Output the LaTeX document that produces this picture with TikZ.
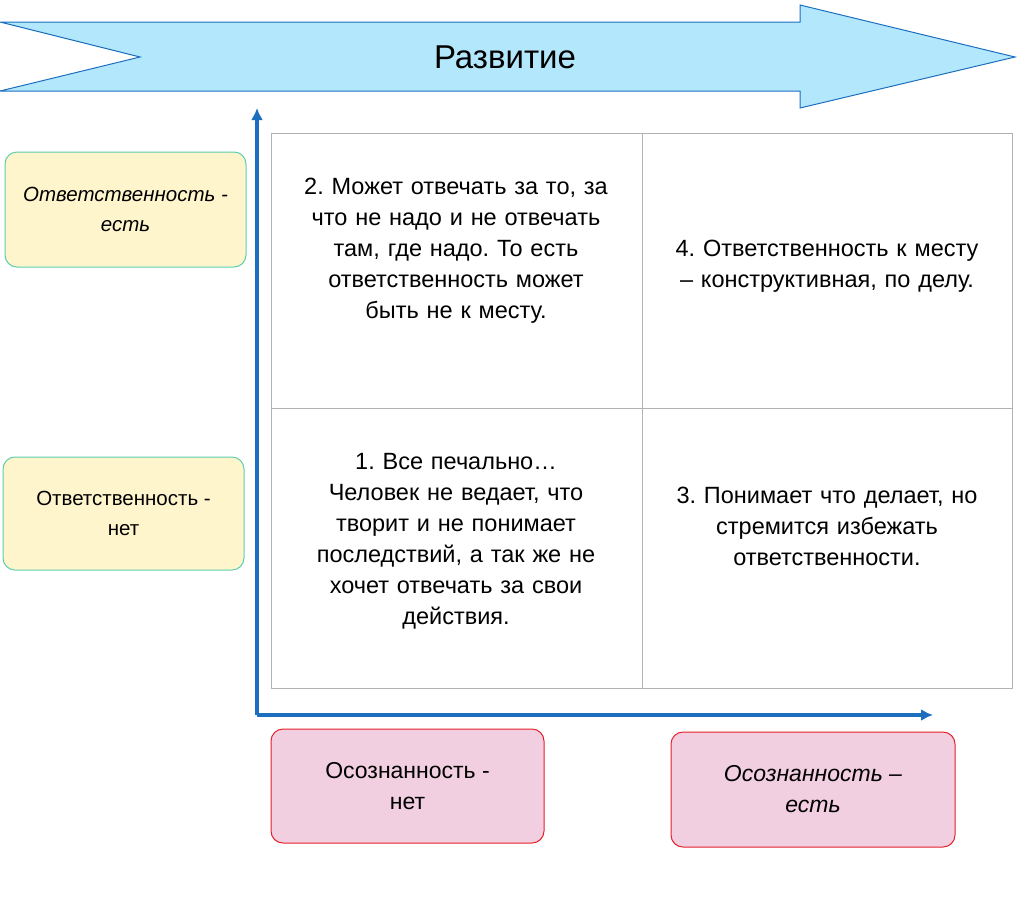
\documentclass[tikz,border=0pt]{standalone}
\usepackage{fontspec}
\setmainfont{Liberation Sans}
\usetikzlibrary{arrows.meta}
\frenchspacing
\definecolor{axisblue}{HTML}{1C6FBF}
\definecolor{arrowfill}{HTML}{B3E7FB}
\definecolor{leftfill}{HTML}{FFF5CC}
\definecolor{leftdraw}{HTML}{5CCFB0}
\definecolor{botfill}{HTML}{F2CFE0}
\definecolor{botdraw}{HTML}{E5202A}
\tikzset{
  cell/.style={align=center,text width=360pt,font=\fontsize{23.5}{31}\selectfont},
  lbox/.style={draw=leftdraw,fill=leftfill,rounded corners=12pt,line width=1pt,align=center,font=\fontsize{20.5}{30}\selectfont},
  bbox/.style={draw=botdraw,fill=botfill,rounded corners=12pt,line width=1pt,align=center,font=\fontsize{23}{31}\selectfont},
  axis/.style={draw=axisblue,line width=3.5pt,-{Latex[length=12pt,width=12pt]}}
}
\begin{document}
\begin{tikzpicture}[x=1pt,y=-1pt]
  \useasboundingbox (0,0) rectangle (1024,898);
  % big arrow
  \draw[draw=axisblue,fill=arrowfill,line width=1pt]
    (0,22) -- (800,22) -- (800,5) -- (1015,57) -- (800,108) -- (800,91) -- (0,91) -- (140,57) -- cycle;
  \node[font=\fontsize{33}{38}\selectfont] (title) at (505,57) {Развитие};
  % grid
  \draw[gray!60,line width=1pt] (271,133) rectangle (1012,688)
    (642,133) -- (642,688) (271,408) -- (1012,408);
  \node[cell] (c2) at (456,251) {2. Может отвечать за то, за\\что не надо и не отвечать\\там, где надо. То есть\\ответственность может\\быть не к месту.};
  \node[cell] (c4) at (827,266) {4. Ответственность к месту\\– конструктивная, по делу.};
  \node[cell] (c1) at (456,541) {1. Все печально…\\Человек не ведает, что\\творит и не понимает\\последствий, а так же не\\хочет отвечать за свои\\действия.};
  \node[cell] (c3) at (827,526) {3. Понимает что делает, но\\стремится избежать\\ответственности.};
  % axes
  \coordinate (o) at (257,715);
  \coordinate (up) at (257,108);
  \coordinate (rt) at (933,715);
  \draw[axis] (o) -- (up);
  \draw[axis] (o) -- (rt);
  % side labels
  \node[lbox,minimum width=241pt,minimum height=115pt] (resp1) at (125.5,209.5) {\itshape Ответственность -\\\itshape есть};
  \node[lbox,minimum width=241pt,minimum height=113pt] (resp0) at (123.5,513.5) {Ответственность -\\нет};
  \node[bbox,minimum width=273pt,minimum height=114pt] (aw0) at (407.5,786) {Осознанность -\\нет};
  \node[bbox,minimum width=284pt,minimum height=115pt] (aw1) at (813,789.5) {\itshape Осознанность –\\\itshape есть};
\end{tikzpicture}
\end{document}
